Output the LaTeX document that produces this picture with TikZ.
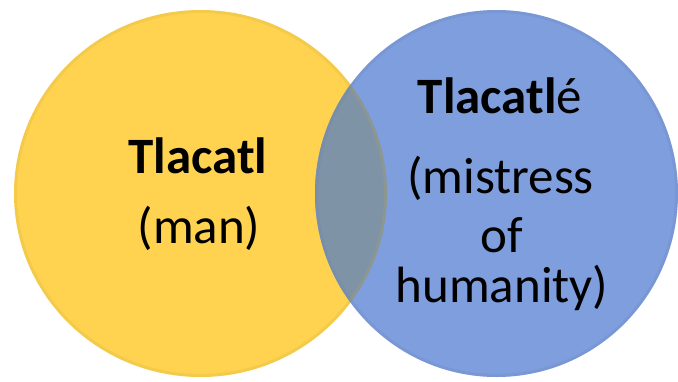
\documentclass[tikz,border=0pt]{standalone}
\usepackage{fontspec}
\setmainfont{Carlito}
\definecolor{ylw}{HTML}{FFD34F}
\definecolor{blu}{HTML}{7E9EDE}
\definecolor{ovl}{HTML}{7E93A6}
\begin{document}
\begin{tikzpicture}[x=1pt,y=-1pt,
  lbl/.style={anchor=base,inner sep=0pt,font=\fontsize{51}{60}\selectfont},
  rimY/.style={draw=ylw!80!black,draw opacity=0.2,line width=3pt},
  rimB/.style={draw=blu!80!black,draw opacity=0.2,line width=3pt}]
\useasboundingbox (0,0) rectangle (678,381);
\fill[white] (0,0) rectangle (678,381);
% yellow circle
\fill[ylw] (200.5,193.5) ellipse [x radius=186.5, y radius=183.5];
% blue circle
\fill[blu] (496.5,193.5) ellipse [x radius=181.5, y radius=183.5];
% overlap
\begin{scope}
  \clip (200.5,193.5) ellipse [x radius=186.5, y radius=183.5];
  \fill[ovl] (496.5,193.5) ellipse [x radius=181.5, y radius=183.5];
\end{scope}
% rims
\draw[rimY] (200.5,193.5) ellipse [x radius=185, y radius=182];
\draw[rimB] (496.5,193.5) ellipse [x radius=180, y radius=182];
% texts
\node[lbl] (t1) at (198,173) {\textbf{Tlacatl}};
\node[lbl] (t2) at (199,243) {(man)};
\node[lbl] (t3) at (500,113) {\textbf{Tlacatl}é};
\node[lbl] (t4) at (500.5,193) {(mistress};
\node[lbl] (t5) at (502,252) {of};
\node[lbl] (t6) at (502,302) {humanity)};
\end{tikzpicture}
\end{document}
